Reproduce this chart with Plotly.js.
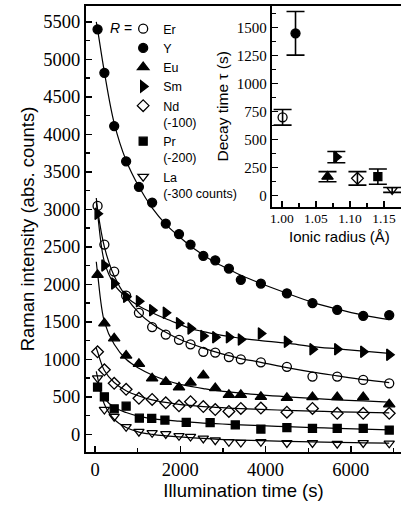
<!DOCTYPE html>
<html><head><meta charset="utf-8">
<script src="https://cdn.plot.ly/plotly-3.0.1.min.js"></script>
<style>html,body{margin:0;padding:0;background:#fff}#chart{width:401px;height:506px}</style>
</head><body><div id="chart"></div>
<script>
// ---------- data ----------
const seriesNames = ['Er', 'Y', 'Eu', 'Sm', 'Nd', 'Pr', 'La'];
const legendLabels = ['Er', 'Y', 'Eu', 'Sm', 'Nd<br>(-100)', 'Pr<br>(-200)', 'La<br>(-300 counts)'];

const timeCommon = [60, 220, 450, 730, 1030, 1340, 1660, 1970, 2240, 2540, 2820, 3140, 3420, 3890, 4500, 5100, 5680, 6290, 6900];
const timePr = [60, 220, 450, 730, 1040, 1330, 1640, 2140, 2700, 3290, 3890, 4500, 5100, 5680, 6290, 6900];

const intensityEr = [3045, 2530, 2170, 1850, 1620, 1430, 1330, 1260, 1200, 1100, 1090, 1030, 1000, 960, 900, 770, 770, 725, 680];
const intensityY  = [5400, 4820, 4110, 3640, 3300, 3090, 2810, 2670, 2530, 2380, 2320, 2210, 2060, 2010, 1880, 1750, 1660, 1580, 1590];
const intensityEu = [2125, 1480, 1280, 1050, 940, 745, 700, 625, 690, 785, 615, 525, 525, 500, 485, 495, 495, 495, 400];
const intensitySm = [2940, 2250, 2010, 1835, 1775, 1655, 1620, 1480, 1410, 1310, 1295, 1295, 1265, 1345, 1235, 1135, 1135, 1100, 1060];
const intensityNd = [1100, 860, 680, 600, 480, 465, 420, 380, 435, 370, 330, 305, 345, 350, 295, 345, 280, 280, 280];
const intensityPr = [630, 500, 340, 375, 215, 213, 190, 160, 155, 125, 70, 90, 80, 80, 80, 57];
const intensityLa = [750, 330, 235, 100, 35, 20, 5, -20, -30, -55, -78, -100, -110, -100, -115, -115, -125, -115, -120];

// fitted curves at these times
const fitTime = [30, 60, 220, 450, 730, 1030, 1340, 1660, 1970, 2240, 2540, 2820, 3140, 3420, 3890, 4500, 5100, 5680, 6290, 6900];
const fitEr = [3150, 3000, 2500, 2110, 1830, 1620, 1470, 1360, 1270, 1210, 1150, 1100, 1050, 1010, 960, 890, 830, 780, 730, 690];
const fitY  = [5500, 5400, 4830, 4150, 3650, 3300, 3020, 2800, 2640, 2510, 2390, 2290, 2200, 2120, 2010, 1880, 1760, 1670, 1590, 1530];
const fitEu = [2300, 2150, 1500, 1200, 1000, 880, 790, 720, 670, 640, 610, 585, 565, 550, 525, 500, 480, 460, 445, 430];
const fitSm = [3100, 2950, 2300, 2000, 1830, 1710, 1620, 1540, 1470, 1410, 1370, 1335, 1305, 1280, 1250, 1215, 1170, 1140, 1110, 1080];
const fitNd = [1150, 1100, 850, 690, 580, 510, 460, 425, 400, 385, 370, 360, 350, 342, 332, 320, 310, 300, 292, 285];
const fitPr = [680, 640, 480, 360, 290, 240, 210, 190, 175, 162, 150, 142, 133, 126, 115, 102, 90, 80, 70, 60];
const fitLa = [840, 760, 400, 200, 90, 30, 0, -20, -35, -45, -55, -65, -72, -78, -85, -95, -102, -108, -113, -118];

// inset: decay time vs ionic radius
const ionicRadius = [1.001, 1.020, 1.067, 1.080, 1.111, 1.141, 1.162];
const decayTime   = [700, 1450, 170, 345, 155, 170, 52];
const decayErr    = [70, 195, 45, 50, 60, 68, 22];

const mainXTicks = [0, 2000, 4000, 6000];
const mainYTicks = [0, 500, 1000, 1500, 2000, 2500, 3000, 3500, 4000, 4500, 5000, 5500];
const insetXTicks = [1.00, 1.05, 1.10, 1.15];
const insetYTicks = [0, 250, 500, 750, 1000, 1250, 1500];

// ---------- styling ----------
const dataX = [timeCommon, timeCommon, timeCommon, timeCommon, timeCommon, timePr, timeCommon];
const dataY = [intensityEr, intensityY, intensityEu, intensitySm, intensityNd, intensityPr, intensityLa];
const fitsY = [fitEr, fitY, fitEu, fitSm, fitNd, fitPr, fitLa];
const symbols = ['circle-open', 'circle', 'triangle-up', 'triangle-right', 'diamond-open', 'square', 'triangle-down-open'];
const sizes = [9, 9, 10, 10, 9, 8, 9];

const traces = [];
for (let i = 0; i < seriesNames.length; i++) {
  traces.push({
    x: fitTime, y: fitsY[i], type: 'scatter', mode: 'lines',
    line: {color: '#000', width: 1.2, shape: 'spline', smoothing: 1},
    showlegend: false, hoverinfo: 'skip', xaxis: 'x', yaxis: 'y'
  });
}
for (let i = 0; i < seriesNames.length; i++) {
  traces.push({
    x: dataX[i], y: dataY[i], type: 'scatter', mode: 'markers', name: legendLabels[i],
    marker: {symbol: symbols[i], size: sizes[i], color: '#000', line: {color: '#000', width: 1.3}},
    xaxis: 'x', yaxis: 'y'
  });
}
for (let i = 0; i < seriesNames.length; i++) {
  traces.push({
    x: [ionicRadius[i]], y: [decayTime[i]], type: 'scatter', mode: 'markers', showlegend: false,
    error_y: {type: 'data', array: [decayErr[i]], visible: true, color: '#000', thickness: 1.6, width: 9},
    marker: {symbol: symbols[i], size: sizes[i], color: '#000', line: {color: '#000', width: 1.3}},
    xaxis: 'x2', yaxis: 'y2'
  });
}

const serif = 'Liberation Serif, Times New Roman, serif';
const sans = 'Liberation Sans, Arial, sans-serif';

const axisCommon = {
  showline: true, linewidth: 2, linecolor: '#000', showgrid: false, zeroline: false,
  ticks: 'inside', tickcolor: '#000', tickwidth: 1.5, ticklen: 6
};

const layout = {
  width: 401, height: 506,
  margin: {l: 86, r: 0, t: 6, b: 54},
  paper_bgcolor: '#fff', plot_bgcolor: '#fff',
  showlegend: true,
  legend: {
    x: 0.118, y: 0.982, xanchor: 'left', yanchor: 'top',
    bgcolor: 'rgba(0,0,0,0)', borderwidth: 0,
    font: {family: sans, size: 12.5, color: '#000'},
    traceorder: 'normal', valign: 'top', tracegroupgap: 0
  },
  annotations: [
    {xref: 'paper', yref: 'paper', x: 0.152, y: 0.951, xanchor: 'right', yanchor: 'middle',
     text: '<i>R</i> =', showarrow: false, font: {family: sans, size: 14, color: '#000'}},
    {xref: 'paper', yref: 'paper', x: 0.806, y: 0.484, xanchor: 'center', yanchor: 'middle',
     text: 'Ionic radius (Å)', showarrow: false, font: {family: sans, size: 15, color: '#000'}}
  ],
  xaxis: Object.assign({}, axisCommon, {
    domain: [0, 1], anchor: 'y', range: [-211, 7176], mirror: true,
    tickvals: mainXTicks, ticktext: mainXTicks.map(String),
    minor: {dtick: 1000, tick0: 0, ticks: 'inside', ticklen: 4, tickwidth: 1.2, tickcolor: '#000'},
    tickfont: {family: serif, size: 18.5, color: '#000'},
    title: {text: 'Illumination time (s)', font: {family: sans, size: 18.5, color: '#000'}, standoff: 5}
  }),
  yaxis: Object.assign({}, axisCommon, {
    domain: [0, 1], anchor: 'x', range: [-236, 5711],
    tickvals: mainYTicks, ticktext: mainYTicks.map(String),
    minor: {dtick: 250, tick0: 0, ticks: 'inside', ticklen: 4, tickwidth: 1.2, tickcolor: '#000'},
    tickfont: {family: serif, size: 18.5, color: '#000'},
    title: {text: 'Raman intensity (abs. counts)', font: {family: sans, size: 18.5, color: '#000'}, standoff: 4}
  }),
  xaxis2: Object.assign({}, axisCommon, {
    domain: [0.5895, 1], anchor: 'y2', range: [0.985, 1.175],
    tickvals: insetXTicks, ticktext: insetXTicks.map(v => v.toFixed(2)),
    minor: {dtick: 0.025, tick0: 1.0, ticks: 'inside', ticklen: 4, tickwidth: 1.2, tickcolor: '#000'},
    tickfont: {family: serif, size: 13.5, color: '#000'}, ticklabelstandoff: -2
  }),
  yaxis2: Object.assign({}, axisCommon, {
    domain: [0.55, 1], anchor: 'x2', range: [-98, 1694],
    tickvals: insetYTicks, ticktext: insetYTicks.map(String),
    minor: {dtick: 125, tick0: 0, ticks: 'inside', ticklen: 4, tickwidth: 1.2, tickcolor: '#000'},
    tickfont: {family: serif, size: 15, color: '#000'},
    title: {text: 'Decay time τ (s)', font: {family: sans, size: 15.5, color: '#000'}, standoff: 4}
  })
};

Plotly.newPlot('chart', traces, layout, {staticPlot: true, displayModeBar: false});
</script>
</body></html>
